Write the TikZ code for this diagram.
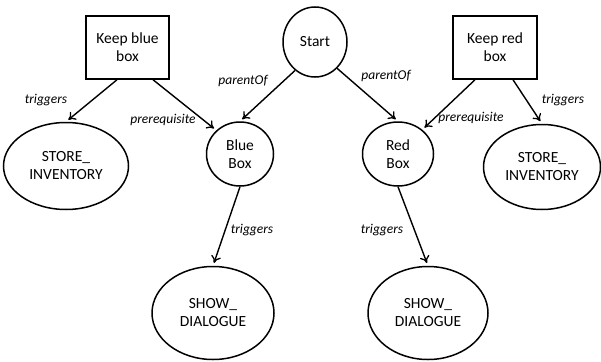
\documentclass[tikz,border=0pt]{standalone}
\usepackage{fontspec}
\setmainfont{Carlito}
\usetikzlibrary{arrows.meta,shapes.geometric}
\begin{document}
\begin{tikzpicture}[x=1pt,y=-1pt,
  every node/.style={font=\fontsize{15.5}{18}\selectfont, align=center},
  state/.style={draw, ellipse, line width=1.5pt, inner sep=0pt},
  rule/.style={draw, rectangle, line width=1.5pt, inner sep=0pt},
  link/.style={line width=1.4pt, shorten >=3pt, -{To[length=7pt,width=10pt,line width=1.3pt]}},
  lbl/.style={font=\fontsize{13.5}{15}\selectfont\itshape}]
\useasboundingbox (0,0) rectangle (601,361);

% rules
\node[rule, minimum width=83pt, minimum height=63pt] (kb) at (127.5,47.5) {Keep blue\\box};
\node[rule, minimum width=84pt, minimum height=63pt] (kr) at (495,47.5) {Keep red\\box};

% states
\node[state, minimum width=64pt, minimum height=70pt] (start) at (315,42) {Start};
\node[state, minimum width=67pt, minimum height=64pt] (blue) at (240,154) {Blue\\Box};
\node[state, minimum width=71pt, minimum height=64pt] (red) at (398,154) {Red\\Box};

% actions
\node[state, minimum width=125pt, minimum height=87pt] (sil) at (66,166) {STORE\_\\INVENTORY};
\node[state, minimum width=117pt, minimum height=85pt] (sir) at (542,167) {STORE\_\\INVENTORY};
\node[state, minimum width=122pt, minimum height=93pt] (sdl) at (213,313) {SHOW\_\\DIALOGUE};
\node[state, minimum width=120pt, minimum height=93pt] (sdr) at (428,313) {SHOW\_\\DIALOGUE};

% connectors
\draw[link] (kb.south -| 117,0) -- (sil.north);
\draw[link] (kb.south -| 153,0) -- (blue.135);
\draw[link] (start.235) -- (blue.north);
\draw[link] (start.310) -- (red.north);
\draw[link] (kr.south -| 475,0) -- (red.45);
\draw[link] (kr.south -| 513,0) -- (sir.north);
\draw[link] (blue.south) -- (sdl.north);
\draw[link] (red.south) -- (sdr.north);

% labels
\node[lbl] (l1) at (46,100) {triggers};
\node[lbl] (l2) at (163,120) {prerequisite};
\node[lbl] (l3) at (243,81) {parentOf};
\node[lbl] (l4) at (386,76) {parentOf};
\node[lbl] (l5) at (471,118) {prerequisite};
\node[lbl] (l6) at (563,100) {triggers};
\node[lbl] (l7) at (252,230) {triggers};
\node[lbl] (l8) at (382,230) {triggers};
\end{tikzpicture}
\end{document}
